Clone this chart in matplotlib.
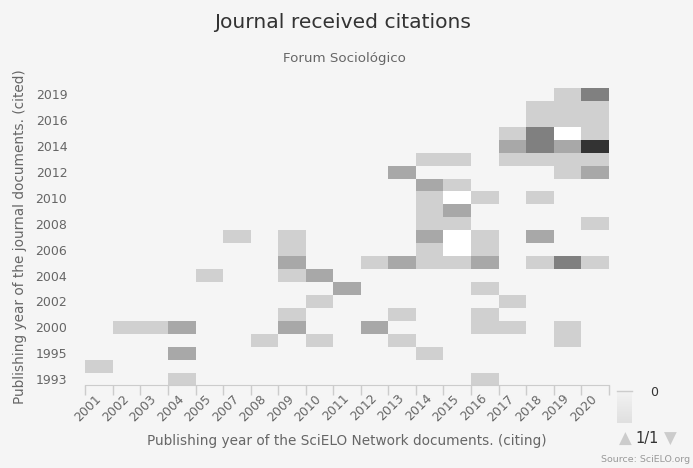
import numpy as np
import matplotlib.pyplot as plt
from matplotlib.colors import LinearSegmentedColormap

# categories
citing_years = ['2001', '2002', '2003', '2004', '2005', '2007', '2008', '2009', '2010',
                '2011', '2012', '2013', '2014', '2015', '2016', '2017', '2018', '2019', '2020']
cited_years = ['1993', '1994', '1995', '1999', '2000', '2001', '2002', '2003', '2004',
               '2005', '2006', '2007', '2008', '2009', '2010', '2011', '2012', '2013',
               '2014', '2015', '2016', '2018', '2019']

# cells: citing year, cited year, number of citations
cell_citing = ['2004', '2016',
               '2001',
               '2004', '2014',
               '2008', '2010', '2013', '2019',
               '2002', '2003', '2004', '2009', '2012', '2016', '2017', '2019',
               '2009', '2013', '2016',
               '2010', '2017',
               '2011', '2016',
               '2005', '2009', '2010',
               '2009', '2012', '2013', '2014', '2015', '2016', '2018', '2019', '2020',
               '2009', '2014', '2015', '2016',
               '2007', '2009', '2014', '2015', '2016', '2018',
               '2014', '2015', '2020',
               '2014', '2015',
               '2014', '2015', '2016', '2018',
               '2014', '2015',
               '2013', '2019', '2020',
               '2014', '2015', '2017', '2018', '2019', '2020',
               '2017', '2018', '2019', '2020',
               '2017', '2018', '2019', '2020',
               '2018', '2019', '2020',
               '2018', '2019', '2020',
               '2019', '2020']
cell_cited = ['1993', '1993',
              '1994',
              '1995', '1995',
              '1999', '1999', '1999', '1999',
              '2000', '2000', '2000', '2000', '2000', '2000', '2000', '2000',
              '2001', '2001', '2001',
              '2002', '2002',
              '2003', '2003',
              '2004', '2004', '2004',
              '2005', '2005', '2005', '2005', '2005', '2005', '2005', '2005', '2005',
              '2006', '2006', '2006', '2006',
              '2007', '2007', '2007', '2007', '2007', '2007',
              '2008', '2008', '2008',
              '2009', '2009',
              '2010', '2010', '2010', '2010',
              '2011', '2011',
              '2012', '2012', '2012',
              '2013', '2013', '2013', '2013', '2013', '2013',
              '2014', '2014', '2014', '2014',
              '2015', '2015', '2015', '2015',
              '2016', '2016', '2016',
              '2018', '2018', '2018',
              '2019', '2019']
cell_count = [1, 1,
              1,
              2, 1,
              1, 1, 1, 1,
              1, 1, 2, 2, 2, 1, 1, 1,
              1, 1, 1,
              1, 1,
              2, 1,
              1, 1, 2,
              2, 1, 2, 1, 1, 2, 1, 3, 1,
              1, 1, 0, 1,
              1, 1, 2, 0, 1, 2,
              1, 1, 1,
              1, 2,
              1, 0, 1, 1,
              2, 1,
              2, 1, 2,
              1, 1, 1, 1, 1, 1,
              2, 3, 2, 5,
              1, 3, 0, 1,
              1, 1, 1,
              1, 1, 1,
              1, 3]

grid = np.full((len(cited_years), len(citing_years)), np.nan)
for c, d, v in zip(cell_citing, cell_cited, cell_count):
    grid[cited_years.index(d), citing_years.index(c)] = v

bg = '#f5f5f5'
cmap = LinearSegmentedColormap.from_list(
    'cites', [(0, '#ffffff'), (0.2, '#d0d0d0'), (0.4, '#a8a8a8'), (0.6, '#808080'), (1, '#333333')])

fig = plt.figure(figsize=(6.93, 4.68), dpi=100, facecolor=bg)
ax = fig.add_axes([0.1231, 0.1763, 0.7553, 0.6357])
ax.set_facecolor(bg)

ax.pcolormesh(np.arange(len(citing_years) + 1), np.arange(len(cited_years) + 1),
              np.ma.masked_invalid(grid), cmap=cmap, vmin=0, vmax=5)
ax.set_xlim(0, len(citing_years))
ax.set_ylim(0, len(cited_years))

for s in ['top', 'right', 'left']:
    ax.spines[s].set_visible(False)
ax.spines['bottom'].set_color('#cccccc')

ax.set_xticks(np.arange(len(citing_years)) + 0.5)
ax.set_xticklabels(citing_years, rotation=45, ha='right', va='center',
                   rotation_mode='anchor', color='#666666', fontsize=9)
ax.set_xticks(np.arange(len(citing_years) + 1), minor=True)
ax.tick_params(axis='x', which='major', length=0, pad=8)
ax.tick_params(axis='x', which='minor', length=7, color='#cccccc', width=1)

yt = np.arange(0, len(cited_years), 2)
ax.set_yticks(yt + 0.5)
ax.set_yticklabels([cited_years[i] for i in yt], color='#666666', fontsize=9)
ax.tick_params(axis='y', length=0, pad=13)

fig.text(0.494, 0.952, 'Journal received citations', ha='center', va='center',
         fontsize=14.6, color='#333333')
fig.text(0.497, 0.876, 'Forum Sociológico', ha='center', va='center',
         fontsize=9.6, color='#666666')
fig.text(0.029, 0.494, 'Publishing year of the journal documents. (cited)', rotation=90,
         ha='center', va='center', fontsize=9.8, color='#666666')
fig.text(0.501, 0.058, 'Publishing year of the SciELO Network documents. (citing)',
         ha='center', va='center', fontsize=9.8, color='#666666')
fig.text(0.996, 0.008, 'Source: SciELO.org', ha='right', va='bottom', fontsize=6.8,
         color='#999999')

# color legend
lax = fig.add_axes([0.8903, 0.0962, 0.0216, 0.0684])
legend_cmap = LinearSegmentedColormap.from_list('leg', ['#f3f3f3', '#e0e0e0'])
lax.imshow(np.linspace(0, 1, 50).reshape(-1, 1), cmap=legend_cmap, vmin=0, vmax=1,
           aspect='auto', extent=(0, 1, 0, 1))
lax.set_axis_off()
fig.add_artist(plt.Line2D([0.8903, 0.9119], [0.164, 0.164], color='#cccccc', lw=1))
fig.text(0.938, 0.162, '0', ha='left', va='center', fontsize=9, color='#333333')
fig.text(0.902, 0.062, '\u25b2', ha='center', va='center', fontsize=12, color='#cccccc')
fig.text(0.934, 0.062, '1/1', ha='center', va='center', fontsize=10.5, color='#333333')
fig.text(0.967, 0.062, '\u25bc', ha='center', va='center', fontsize=12, color='#cccccc')

fig.savefig('out.png', dpi=100, facecolor=bg)
